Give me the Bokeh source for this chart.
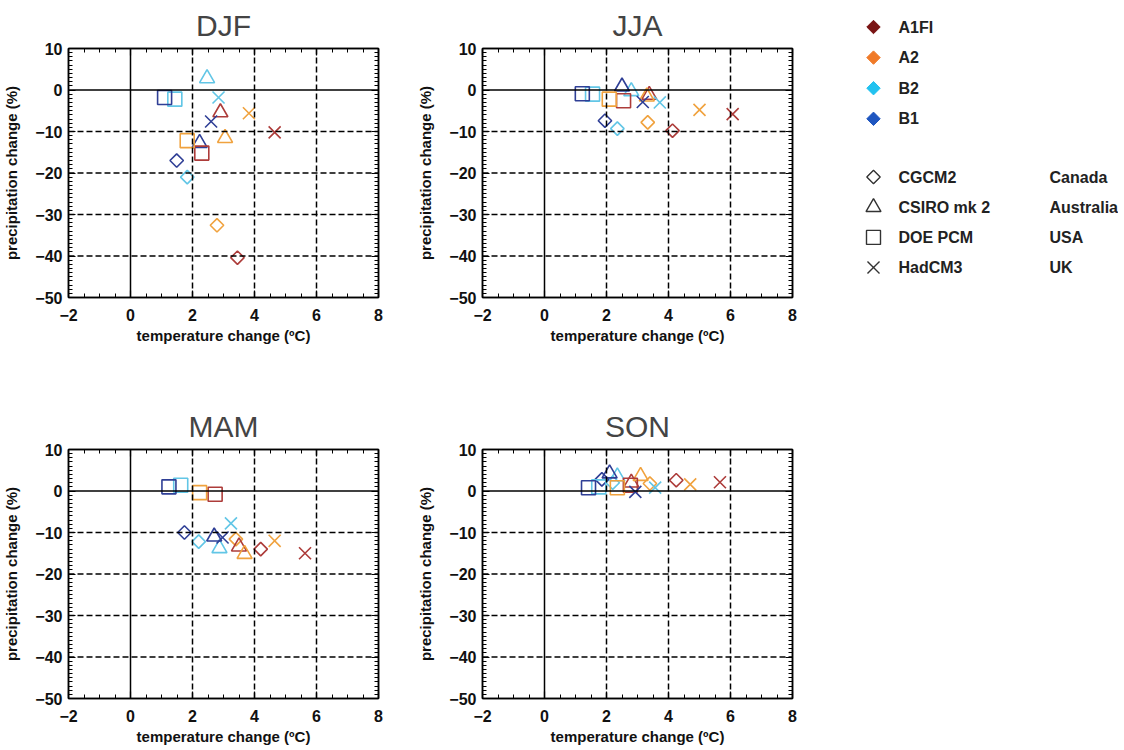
import numpy as np
from bokeh.plotting import figure
from bokeh.layouts import row, column
from bokeh.models import Range1d, LinearAxis, FixedTicker, Span
from bokeh.embed import file_html
from bokeh.resources import INLINE
from bokeh.core.properties import value

FONT = "Liberation Sans"

# ---------------- data ----------------
scenarios = ["A1FI", "A2", "B2", "B1"]
scenario_colors = ["#ad3c3a", "#f0a23e", "#62c6e6", "#2f3f96"]
legend_colors = ["#7a1414", "#f07a28", "#22c2f0", "#1f56c0"]
models = ["CGCM2", "CSIRO mk 2", "DOE PCM", "HadCM3"]
countries = ["Canada", "Australia", "USA", "UK"]
seasons = ["DJF", "JJA", "MAM", "SON"]
x_ticks = [-2, 0, 2, 4, 6, 8]
y_ticks = [-50, -40, -30, -20, -10, 0, 10]

# values ordered A1FI, A2, B2, B1 ; dt = temperature change (C), dp = precipitation change (%)
djf_cgcm2_dt = [3.45, 2.79, 1.83, 1.49]
djf_cgcm2_dp = [-40.4, -32.6, -21.0, -17.0]
djf_csiro_dt = [2.90, 3.05, 2.47, 2.23]
djf_csiro_dp = [-5.4, -11.6, 2.8, -12.8]
djf_doe_dt = [2.30, 1.83, 1.43, 1.10]
djf_doe_dp = [-15.2, -12.2, -2.2, -1.8]
djf_had_dt = [4.65, 3.82, 2.84, 2.60]
djf_had_dp = [-10.2, -5.6, -1.8, -7.6]

jja_cgcm2_dt = [4.13, 3.33, 2.35, 1.95]
jja_cgcm2_dp = [-9.8, -7.8, -9.3, -7.4]
jja_csiro_dt = [3.38, 3.30, 2.80, 2.50]
jja_csiro_dp = [-1.2, -1.6, -0.3, 0.8]
jja_doe_dt = [2.55, 2.09, 1.55, 1.22]
jja_doe_dp = [-2.6, -2.2, -1.0, -0.9]
jja_had_dt = [6.07, 5.00, 3.72, 3.17]
jja_had_dp = [-5.8, -4.8, -3.0, -2.9]

mam_cgcm2_dt = [4.20, 3.40, 2.20, 1.74]
mam_cgcm2_dp = [-14.0, -11.6, -12.2, -10.0]
mam_csiro_dt = [3.50, 3.68, 2.87, 2.70]
mam_csiro_dp = [-13.4, -15.2, -13.8, -11.0]
mam_doe_dt = [2.73, 2.23, 1.62, 1.24]
mam_doe_dp = [-0.8, -0.4, 1.4, 1.0]
mam_had_dt = [5.63, 4.65, 3.24, 2.97]
mam_had_dp = [-15.0, -12.0, -7.8, -11.2]

son_cgcm2_dt = [4.25, 3.40, 2.20, 1.85]
son_cgcm2_dp = [2.6, 1.8, 2.0, 2.8]
son_csiro_dt = [2.80, 3.10, 2.35, 2.10]
son_csiro_dp = [2.0, 3.6, 3.5, 4.2]
son_doe_dt = [2.77, 2.35, 1.75, 1.42]
son_doe_dp = [1.4, 0.8, 1.0, 0.8]
son_had_dt = [5.66, 4.70, 3.57, 2.93]
son_had_dp = [2.1, 1.6, 0.8, -0.2]

season_data = {
    "DJF": [(djf_cgcm2_dt, djf_cgcm2_dp), (djf_csiro_dt, djf_csiro_dp), (djf_doe_dt, djf_doe_dp), (djf_had_dt, djf_had_dp)],
    "JJA": [(jja_cgcm2_dt, jja_cgcm2_dp), (jja_csiro_dt, jja_csiro_dp), (jja_doe_dt, jja_doe_dp), (jja_had_dt, jja_had_dp)],
    "MAM": [(mam_cgcm2_dt, mam_cgcm2_dp), (mam_csiro_dt, mam_csiro_dp), (mam_doe_dt, mam_doe_dp), (mam_had_dt, mam_had_dp)],
    "SON": [(son_cgcm2_dt, son_cgcm2_dp), (son_csiro_dt, son_csiro_dp), (son_doe_dt, son_doe_dp), (son_had_dt, son_had_dp)],
}

# marker style per model: (bokeh marker, size, angle)
marker_style = [("square", 9.5, np.pi / 4), ("triangle", 15, 0.0), ("square", 14, 0.0), ("x", 17, 0.0)]


def style_axis(ax, labels=True):
    ax.major_tick_in = 7
    ax.major_tick_out = 0
    ax.minor_tick_in = 4
    ax.minor_tick_out = 0
    ax.major_tick_line_color = "black"
    ax.minor_tick_line_color = "black"
    ax.major_tick_line_width = 1.2
    ax.minor_tick_line_width = 1
    ax.axis_line_color = "black"
    ax.axis_line_width = 1.5
    if labels:
        ax.major_label_text_font = FONT
        ax.major_label_text_font_style = "bold"
        ax.major_label_text_font_size = "16px"
        ax.major_label_text_color = "#111111"
        ax.axis_label_text_font = FONT
        ax.axis_label_text_font_style = "bold"
        ax.axis_label_text_font_size = "15px"
        ax.axis_label_text_color = "#111111"
    else:
        ax.major_label_text_font_size = "0px"
        ax.major_label_standoff = 0
        ax.axis_label_standoff = 0


def make_panel(season, left, right, top, bottom):
    p = figure(frame_width=310, frame_height=249, x_range=Range1d(-2, 8), y_range=Range1d(-50, 10),
               output_backend="svg", toolbar_location=None,
               min_border_left=left, min_border_right=right, min_border_top=top, min_border_bottom=bottom,
               x_axis_location=None, y_axis_location=None)
    p.background_fill_color = "white"
    p.border_fill_color = "white"
    p.outline_line_color = "black"
    p.outline_line_width = 1.5

    xt = FixedTicker(ticks=x_ticks, minor_ticks=list(np.arange(-2, 8.01, 0.5)))
    yt = FixedTicker(ticks=y_ticks, minor_ticks=list(range(-50, 11)))

    bx = LinearAxis(ticker=xt, axis_label="temperature change (ºC)")
    style_axis(bx)
    bx.major_label_standoff = 11
    bx.axis_label_standoff = 3
    p.add_layout(bx, "below")
    ly = LinearAxis(ticker=yt, axis_label="precipitation change (%)")
    style_axis(ly)
    ly.major_label_standoff = 6
    ly.axis_label_standoff = 12
    p.add_layout(ly, "left")
    tx = LinearAxis(ticker=xt)
    style_axis(tx, labels=False)
    p.add_layout(tx, "above")
    ry = LinearAxis(ticker=yt)
    style_axis(ry, labels=False)
    p.add_layout(ry, "right")

    p.xgrid.visible = False
    p.ygrid.visible = False
    for xv in [2, 4, 6]:
        p.add_layout(Span(location=xv, dimension="height", line_color="black", line_width=1.5, line_dash="6 3"))
    for yv in [-40, -30, -20, -10]:
        p.add_layout(Span(location=yv, dimension="width", line_color="black", line_width=1.5, line_dash="6 3"))
    p.add_layout(Span(location=0, dimension="height", line_color="black", line_width=1.5))
    p.add_layout(Span(location=0, dimension="width", line_color="black", line_width=1.5))

    p.title.text = season
    p.title.align = "center"
    p.title.text_font = FONT
    p.title.text_font_style = "normal"
    p.title.text_font_size = "30px"
    p.title.standoff = 13

    for (mk, sz, ang), (dt, dp) in zip(marker_style, season_data[season]):
        p.scatter(dt, dp, marker=mk, size=sz, angle=ang, fill_color=None,
                  line_color=scenario_colors, line_width=1.6)
    return p


p_djf = make_panel("DJF", 63, 36, 47, 56)
p_jja = make_panel("JJA", 63, 23, 47, 56)
p_mam = make_panel("MAM", 63, 36, 96, 40)
p_son = make_panel("SON", 63, 23, 96, 40)

# ---------------- legend ----------------
# legend canvas uses page-pixel coordinates (x from 813, y from top of page downward)
leg = figure(frame_width=303, frame_height=352, x_range=Range1d(813, 1116), y_range=Range1d(352, 0),
             output_backend="svg", toolbar_location=None, min_border=0,
             x_axis_location=None, y_axis_location=None)
leg.outline_line_color = None
leg.xgrid.visible = False
leg.ygrid.visible = False
leg.background_fill_color = "white"
leg.border_fill_color = "white"

scen_y = [26.5 + 30.6 * i for i in range(len(scenarios))]
model_y = [176.5 + 30.2 * i for i in range(len(models))]
leg.scatter([871] * len(scenarios), scen_y, marker="square", size=9.5, angle=np.pi / 4,
            fill_color=legend_colors, line_color=legend_colors)
leg.text([896] * len(scenarios), scen_y, text=scenarios, text_font=value(FONT), text_font_style="bold",
         text_font_size="16px", text_baseline="middle", text_color="#222222")
for i, (mk, sz, ang) in enumerate(marker_style):
    leg.scatter([871], [model_y[i]], marker=mk, size=sz, angle=ang, fill_color=None,
                line_color="#333333", line_width=1.4)
leg.text([896] * len(models), model_y, text=models, text_font=value(FONT), text_font_style="bold",
         text_font_size="16px", text_baseline="middle", text_color="#222222")
leg.text([1047] * len(countries), model_y, text=countries, text_font=value(FONT), text_font_style="bold",
         text_font_size="16px", text_baseline="middle", text_color="#222222")

layout = row(column(row(p_djf, p_jja), row(p_mam, p_son)), leg)
open("out.html", "w").write(file_html(layout, INLINE))
